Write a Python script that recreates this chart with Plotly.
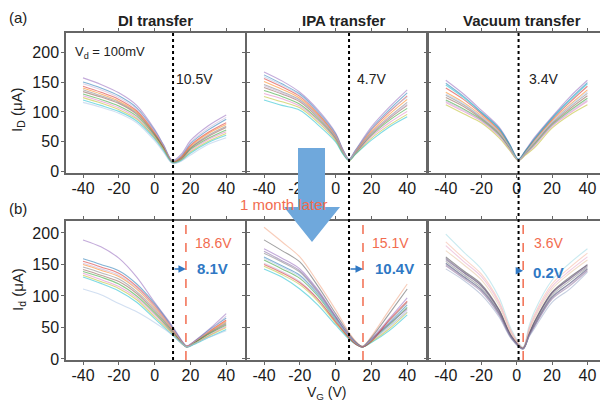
import plotly.graph_objects as go

# ---------------- data ----------------
V_a1 = [-40, -30, -20, -10, 0, 5, 10, 15, 20, 30, 40]
I_a1 = [
    [157, 146, 132, 111, 71, 45, 19, 30, 52, 77, 95],
    [150, 140, 127, 107, 69, 44, 18, 27, 47, 70, 88],
    [143, 133, 121, 102, 66, 42, 17, 25, 44, 66, 82],
    [140, 130, 118, 100, 64, 41, 17, 24, 42, 64, 79],
    [137, 127, 116, 98, 63, 40, 16, 23, 40, 61, 76],
    [134, 125, 114, 96, 62, 40, 16, 22, 39, 59, 74],
    [130, 121, 110, 93, 60, 39, 16, 21, 37, 56, 70],
    [127, 118, 107, 90, 58, 38, 15, 21, 35, 54, 67],
    [124, 115, 104, 88, 57, 37, 15, 20, 33, 51, 64],
    [120, 111, 101, 85, 55, 35, 15, 19, 31, 49, 61],
    [116, 108, 98, 82, 52, 33, 14, 18, 28, 46, 57],
    [147, 137, 124, 105, 68, 44, 18, 28, 49, 73, 91],
]
V_a2 = [-40, -30, -20, -10, 0, 4, 7.5, 11, 20, 30, 40]
I_a2 = [
    [167, 152, 133, 104, 65, 38, 21, 36, 75, 108, 137],
    [162, 147, 130, 101, 63, 37, 21, 35, 72, 104, 132],
    [156, 142, 126, 98, 61, 36, 20, 34, 70, 100, 127],
    [151, 138, 123, 96, 60, 35, 20, 33, 67, 96, 121],
    [146, 134, 120, 94, 58, 34, 20, 32, 65, 92, 116],
    [141, 130, 117, 91, 57, 34, 20, 31, 63, 89, 111],
    [136, 126, 113, 88, 55, 33, 19, 31, 61, 86, 106],
    [131, 122, 110, 86, 54, 32, 19, 30, 59, 82, 101],
    [126, 117, 107, 83, 52, 31, 19, 29, 56, 78, 96],
    [120, 111, 103, 79, 50, 30, 19, 29, 53, 75, 92],
    [159, 145, 128, 100, 62, 37, 21, 35, 71, 102, 125],
    [144, 132, 119, 93, 58, 34, 20, 32, 64, 91, 113],
]
V_a3 = [-40, -30, -20, -10, -4, 1, 5, 10, 20, 30, 40]
I_a3 = [
    [153, 130, 103, 75, 47, 21, 36, 57, 92, 125, 153],
    [148, 126, 100, 73, 46, 21, 35, 55, 90, 121, 149],
    [140, 121, 97, 70, 44, 20, 34, 53, 87, 116, 143],
    [133, 116, 94, 68, 43, 20, 33, 51, 85, 112, 137],
    [128, 112, 91, 66, 42, 20, 32, 49, 82, 108, 131],
    [124, 109, 89, 64, 40, 20, 31, 47, 80, 105, 127],
    [120, 105, 87, 62, 39, 19, 30, 45, 78, 102, 123],
    [116, 101, 85, 60, 38, 19, 29, 43, 76, 98, 118],
    [112, 97, 82, 57, 36, 19, 28, 40, 73, 95, 112],
    [145, 124, 99, 72, 45, 21, 35, 54, 89, 119, 147],
    [130, 114, 92, 67, 42, 20, 32, 50, 83, 110, 134],
    [118, 103, 86, 61, 38, 19, 30, 44, 77, 100, 120],
]
V_b1 = [-40, -30, -20, -10, 0, 10, 15, 18, 22, 30, 40]
I_b1 = [
    [189, 178, 160, 130, 90, 52, 30, 21, 28, 46, 72],
    [159, 150, 140, 119, 88, 50, 29, 20, 27, 45, 65],
    [155, 146, 136, 115, 85, 48, 28, 20, 27, 43, 62],
    [150, 141, 131, 111, 82, 47, 27, 20, 26, 42, 60],
    [146, 137, 127, 107, 79, 45, 27, 19, 26, 41, 58],
    [142, 133, 123, 104, 76, 44, 26, 19, 25, 40, 56],
    [139, 130, 119, 100, 73, 42, 26, 19, 25, 39, 54],
    [136, 126, 115, 97, 70, 41, 25, 19, 24, 37, 52],
    [133, 123, 112, 94, 67, 40, 25, 19, 24, 36, 50],
    [130, 120, 108, 90, 64, 38, 25, 19, 23, 34, 47],
    [111, 102, 88, 75, 58, 38, 25, 19, 24, 34, 45],
    [152, 143, 133, 113, 84, 48, 28, 20, 27, 44, 68],
]
V_b2 = [-40, -30, -20, -10, 0, 8, 12, 15, 20, 30, 40]
I_b2 = [
    [209, 186, 162, 122, 78, 40, 26, 20, 36, 78, 119],
    [189, 172, 154, 116, 72, 38, 25, 20, 34, 72, 111],
    [175, 160, 143, 110, 68, 36, 24, 19, 32, 64, 97],
    [168, 154, 138, 106, 66, 35, 24, 19, 31, 60, 90],
    [162, 148, 133, 103, 64, 34, 23, 19, 30, 57, 86],
    [157, 143, 128, 100, 62, 33, 23, 19, 29, 54, 82],
    [152, 139, 123, 96, 60, 32, 22, 19, 28, 51, 78],
    [147, 134, 118, 92, 57, 31, 22, 19, 27, 48, 74],
    [143, 130, 111, 86, 54, 30, 22, 19, 26, 45, 70],
    [171, 156, 140, 108, 67, 35, 24, 19, 31, 56, 80],
    [160, 146, 131, 102, 63, 34, 23, 19, 30, 52, 75],
    [150, 137, 121, 95, 59, 32, 22, 19, 28, 62, 92],
]
V_b3 = [-40, -30, -20, -10, -3, 3.6, 7, 10, 20, 30, 40]
I_b3 = [
    [198, 170, 143, 98, 47, 19, 52, 75, 125, 152, 175],
    [186, 160, 135, 92, 44, 18, 48, 70, 119, 145, 168],
    [180, 155, 131, 89, 42, 18, 46, 67, 115, 140, 162],
    [162, 140, 119, 79, 37, 17, 40, 59, 106, 130, 149],
    [158, 137, 116, 77, 36, 17, 39, 57, 104, 127, 147],
    [155, 134, 113, 75, 35, 17, 38, 55, 101, 124, 145],
    [152, 131, 110, 73, 34, 16, 37, 53, 98, 120, 143],
    [148, 128, 107, 70, 33, 16, 36, 51, 95, 116, 140],
    [143, 125, 102, 67, 32, 16, 35, 48, 90, 111, 138],
    [172, 150, 126, 85, 40, 18, 44, 64, 111, 136, 157],
    [160, 138, 117, 78, 36, 17, 39, 58, 105, 128, 150],
    [150, 130, 109, 72, 34, 16, 37, 52, 97, 119, 142],
]

col_titles = ["DI transfer", "IPA transfer", "Vacuum transfer"]
v_before = [10.3, 7.5, 1.1]       # black dotted lines (positions in picture)
v_after = [17.5, 15.3, 3.7]       # red dashed lines
lbl_before = ["10.5V", "4.7V", "3.4V"]
lbl_after = ["18.6V", "15.1V", "3.6V"]
lbl_shift = ["8.1V", "10.4V", "0.2V"]
x_ticks = [-40, -20, 0, 20, 40]
x_ticktext = ["-40", "-20", "0", "20", "40"]
y_ticks = [0, 50, 100, 150, 200]

# ---------------- figure ----------------
W, H = 608, 407
OFF = 8   # the page body has an 8px margin; place content relative to the window
FONT = "Liberation Sans, Arial, sans-serif"
palette = ["#9467bd", "#1f77b4", "#d62728", "#ff7f0e", "#7f7f7f", "#8c564b",
           "#2ca02c", "#e377c2", "#bcbd22", "#17becf", "#aec7e8", "#c5b0d5"]
palette_b2 = ["#f4a582", "#555555", "#9467bd", "#7f7f7f", "#1f77b4", "#2ca02c",
              "#c5b0d5", "#bcbd22", "#17becf", "#8064a2", "#aec7e8", "#d62728"]
palette_b3 = ["#9edae5", "#f7b6a0", "#e7a3c8", "#444444", "#5e4a7a", "#7f7f7f",
              "#2b3a67", "#8c6d9c", "#98a8c8", "#e8c39e", "#6b5b7b", "#9a8aa8"]

def px_x(p): return (p - OFF) / W
def px_y(p): return 1 - (p - OFF) / H

col_dom = [[px_x(66), px_x(245)], [px_x(247), px_x(426)], [px_x(429), px_x(606)]]
row_dom = [[px_y(173), px_y(33)], [px_y(360), px_y(221)]]
yr = [[-2, 232], [-1.6, 219]]
title_x = [155, 344, 522]

fig = go.Figure()
panels = [(V_a1, I_a1, palette), (V_a2, I_a2, palette), (V_a3, I_a3, palette),
          (V_b1, I_b1, palette), (V_b2, I_b2, palette_b2), (V_b3, I_b3, palette_b3)]
for idx, (V, curves, pal) in enumerate(panels):
    n = idx + 1
    xa = "x" if n == 1 else f"x{n}"
    ya = "y" if n == 1 else f"y{n}"
    for k, I in enumerate(curves):
        fig.add_trace(go.Scatter(
            x=V, y=I, xaxis=xa, yaxis=ya, mode="lines",
            line=dict(color=pal[k % len(pal)], width=1.1, shape="spline", smoothing=0.9),
            opacity=0.55, showlegend=False, hoverinfo="skip"))

axis_common = dict(showline=True, linecolor="#666", linewidth=1.5, mirror="ticks",
                   ticks="outside", ticklen=3, tickcolor="#666", showgrid=False,
                   zeroline=False, automargin=False,
                   tickfont=dict(family=FONT, size=16, color="#1a1a1a"))
layout = {}
for idx in range(6):
    n = idx + 1
    r, c = divmod(idx, 3)
    xk = "xaxis" if n == 1 else f"xaxis{n}"
    yk = "yaxis" if n == 1 else f"yaxis{n}"
    xa = "x" if n == 1 else f"x{n}"
    ya = "y" if n == 1 else f"y{n}"
    layout[xk] = dict(axis_common, domain=col_dom[c], range=[-49.5, 50.5],
                      tickvals=x_ticks, ticktext=x_ticktext, anchor=ya,
                      ticklabelstandoff=-3)
    layout[yk] = dict(axis_common, domain=row_dom[r], range=yr[r],
                      tickvals=y_ticks, showticklabels=(c == 0), anchor=xa,
                      ticklabelstandoff=-1)

fig.update_layout(width=W, height=H, margin=dict(l=0, r=0, t=0, b=0, autoexpand=False),
                  paper_bgcolor="white", plot_bgcolor="white",
                  font=dict(family=FONT, color="#222"), **layout)

shapes = []
ann = []
CM = dict(xanchor="center", yanchor="middle", showarrow=False)
for c in range(3):
    xa_top = "x" if c == 0 else f"x{c+1}"
    xa_bot = f"x{c+4}"
    ya_bot = f"y{c+4}"
    ya_top = "y" if c == 0 else f"y{c+1}"
    shapes.append(dict(type="line", xref=xa_top, yref="paper",
                       x0=v_before[c], x1=v_before[c],
                       y0=row_dom[1][0], y1=row_dom[0][1],
                       line=dict(color="black", width=2, dash="dot")))
    shapes.append(dict(type="line", xref=xa_bot, yref="paper",
                       x0=v_after[c], x1=v_after[c],
                       y0=row_dom[1][0], y1=row_dom[1][1],
                       line=dict(color="#f26c4f", width=1.5, dash="dash")))
    ann.append(dict(CM, text=f"<b>{col_titles[c]}</b>", xref="paper", yref="paper",
                    x=px_x(title_x[c]), y=px_y(20),
                    font=dict(size=15, color="#222")))
    ann.append(dict(text=lbl_before[c], xref=xa_top, yref=ya_top,
                    x=[11.0, 11.0, 5.8][c], y=155, xanchor="left", yanchor="middle",
                    showarrow=False, font=dict(size=14, color="#222")))
    ann.append(dict(text=lbl_after[c], xref=xa_bot, yref=ya_bot,
                    x=[21.5, 19.0, 8.6][c], y=184, xanchor="left", yanchor="middle",
                    showarrow=False, font=dict(size=14, color="#f26c4f")))
    ann.append(dict(text=f"<b>{lbl_shift[c]}</b>", xref=xa_bot, yref=ya_bot,
                    x=[22.5, 21.0, 8.2][c], y=[143, 143, 137][c], xanchor="left",
                    yanchor="middle", showarrow=False,
                    font=dict(size=15, color="#2f78c4")))
    ann.append(dict(text="", xref=xa_bot, yref=ya_bot, axref=xa_bot, ayref=ya_bot,
                    x=v_after[c], y=[143, 143, 140][c], ax=v_before[c], ay=[143, 143, 140][c],
                    showarrow=True, arrowhead=2, arrowsize=1, arrowwidth=1.5,
                    arrowcolor="#2f78c4"))

# big blue arrow between rows
p = [(298, 148), (325, 148), (325, 207), (340, 207), (312, 242), (284, 207), (298, 207)]
path = "M " + " L ".join(f"{px_x(a):.4f},{px_y(b):.4f}" for a, b in p) + " Z"
shapes.append(dict(type="path", xref="paper", yref="paper", path=path,
                   fillcolor="#6fa8dc", line=dict(width=0), layer="above"))

ann += [
    dict(CM, text="1 month later", xref="paper", yref="paper", x=px_x(284), y=px_y(204),
         font=dict(size=15, color="#f26c4f")),
    dict(CM, text="(a)", xref="paper", yref="paper", x=px_x(18), y=px_y(18),
         font=dict(size=15, color="#222")),
    dict(CM, text="(b)", xref="paper", yref="paper", x=px_x(18), y=px_y(208),
         font=dict(size=15, color="#222")),
    dict(CM, text="I<sub>D</sub> (μA)", xref="paper", yref="paper", x=px_x(18), y=px_y(110),
         textangle=-90, font=dict(size=15, color="#222")),
    dict(CM, text="I<sub>d</sub> (μA)", xref="paper", yref="paper", x=px_x(18), y=px_y(290),
         textangle=-90, font=dict(size=15, color="#222")),
    dict(CM, text="V<sub>G</sub> (V)", xref="paper", yref="paper", x=px_x(327), y=px_y(393),
         font=dict(size=14, color="#222")),
    dict(text="V<sub>d</sub> = 100mV", xref="x", yref="y", x=-45.5, y=200, xanchor="left",
         yanchor="middle", showarrow=False, font=dict(size=13, color="#222")),
]
fig.update_layout(shapes=shapes, annotations=ann)
fig.write_html("out.html")
